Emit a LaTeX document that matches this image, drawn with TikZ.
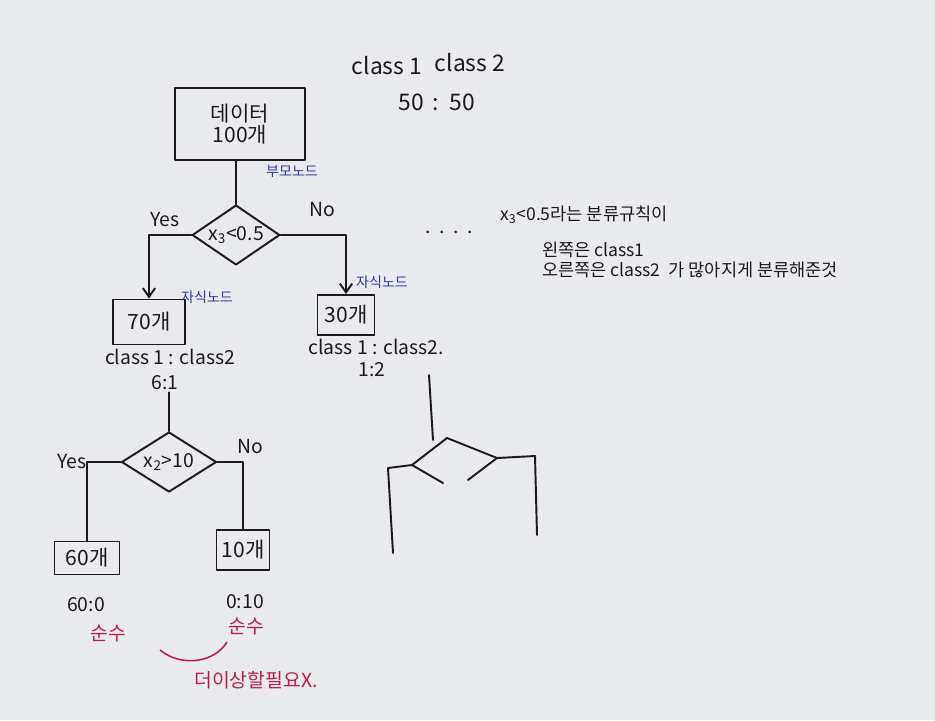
\documentclass[tikz,border=0pt]{standalone}
\usepackage{fontspec}
\setmainfont{Noto Sans CJK KR}
\usetikzlibrary{shapes.geometric,arrows.meta}
\definecolor{paper}{RGB}{234,235,239}
\definecolor{ink}{RGB}{25,25,30}
\definecolor{blueink}{RGB}{45,55,165}
\definecolor{redink}{RGB}{185,30,75}
\tikzset{
  pen/.style={draw=ink, line width=1.1pt, line cap=round, line join=round},
  box/.style={pen, rectangle, inner sep=2pt, font=\fontsize{12}{14}\selectfont, text=ink},
  dia/.style={pen, diamond, aspect=1.5, inner sep=0pt, font=\fontsize{11}{13}\selectfont, text=ink},
  txt/.style={text=ink, font=\fontsize{11}{13}\selectfont, inner sep=1pt},
  bluelbl/.style={text=blueink, font=\fontsize{8}{9}\selectfont, inner sep=1pt},
  redlbl/.style={text=redink, font=\fontsize{11}{13}\selectfont, inner sep=1pt},
  arr/.style={pen, -{Straight Barb[length=5pt,width=7pt]}}
}
\begin{document}
\begin{tikzpicture}[x=0.02cm, y=-0.02cm]
\fill[paper] (0,0) rectangle (935,720);
\useasboundingbox (0,0) rectangle (935,720);

% header
\node[txt, font=\fontsize{13}{15}\selectfont] (hc1) at (387,66) {class 1};
\node[txt, font=\fontsize{13}{15}\selectfont] (hc2) at (470,63) {class 2};
\node[txt, font=\fontsize{13}{15}\selectfont] (h50) at (437,102) {50 \,:\, 50};

% root
\node[box, minimum width=2.6cm, minimum height=1.44cm, align=center] (root) at (240,124) {데이터\\[-2pt]100개};
\node[bluelbl] (lroot) at (292,171) {부모노드};

% first split
\node[dia, minimum width=1.75cm, minimum height=1.2cm] (d1) at (236,235) {x\textsubscript{3}<0.5};
\draw[pen] (d1.north |- root.south) -- (d1.north);

\node[box, minimum width=1.44cm, minimum height=0.9cm] (c1) at (149,322) {70개};
\node[bluelbl] (lc1) at (207,297) {자식노드};
\node[txt] (c1r) at (170,357) {class 1 : class2};
\node[txt] (c1n) at (165,383) {6:1};

\node[box, minimum width=1.14cm, minimum height=0.8cm] (c2) at (346,315) {30개};
\node[bluelbl] (lc2) at (382,282) {자식노드};
\node[txt] (c2r) at (376,347) {class 1 : class2.};
\node[txt] (c2n) at (372,370) {1:2};

\draw[arr] (d1.west) -| (c1.north);
\draw[arr] (d1.east) -| (c2.north);
\node[txt] (yes1) at (165,220) {Yes};
\node[txt] (no1) at (322,210) {No};

% note
\node[txt, anchor=west] (dots) at (423,232) {.\ \ .\ \ .\ \ .};
\node[txt, font=\fontsize{10}{12}\selectfont, anchor=west] (n1) at (498,215) {x\textsubscript{3}<0.5라는 분류규칙이};
\node[txt, font=\fontsize{10}{12}\selectfont, anchor=west] (n2) at (540,250) {왼쪽은 class1};
\node[txt, font=\fontsize{10}{12}\selectfont, anchor=west] (n3) at (540,270) {오른쪽은 class2 \ 가 많아지게 분류해준것};

% second split
\node[dia, minimum width=1.9cm, minimum height=1.2cm] (d2) at (169,462) {x\textsubscript{2}>10};
\draw[pen] (d2.north |- c1n.south) -- (d2.north);

\node[box, minimum width=1.3cm, minimum height=0.66cm] (b60) at (87,558) {60개};
\node[box, minimum width=1.06cm, minimum height=0.8cm] (b10) at (243,550) {10개};
\draw[pen] (d2.west) -| (b60.north);
\draw[pen] (d2.east) -| (b10.north);
\node[txt] (yes2) at (72,462) {Yes};
\node[txt] (no2) at (250,447) {No};

\node[txt] (r60) at (86,605) {60:0};
\node[redlbl] (p60) at (108,633) {순수};
\node[txt] (r10) at (245,602) {0:10};
\node[redlbl] (p10) at (246,626) {순수};

\coordinate (arcA) at (160,650);
\coordinate (arcB) at (227,642);
\draw[draw=redink, line width=0.9pt] (arcA) .. controls (182,668) and (215,662) .. (arcB);
\node[redlbl] (more) at (256,680) {더이상할필요X.};

% unfinished split on the right
\coordinate (t0) at (429,375);
\coordinate (dt) at (447,438);
\coordinate (dl) at (412,465);
\coordinate (dr) at (497,458);
\coordinate (dlb) at (443,483);
\coordinate (drb) at (468,480);
\draw[pen] (t0) -- (433,440);
\draw[pen] (dl) -- (dt) -- (dr);
\draw[pen] (dl) -- (dlb);
\draw[pen] (dr) -- (drb);
\draw[pen] (dl) -- (388,468) -- (393,553);
\draw[pen] (dr) -- (535,456) -- (537,535);
\end{tikzpicture}
\end{document}
